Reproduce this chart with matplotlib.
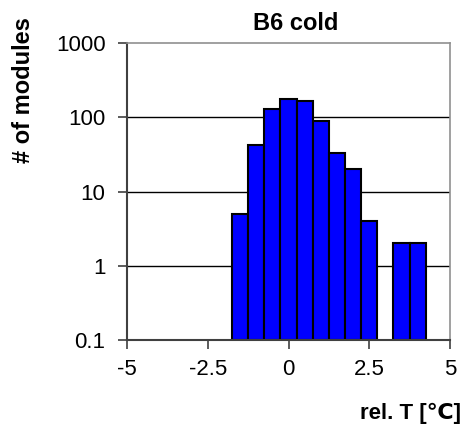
import numpy as np
import matplotlib.pyplot as plt

plt.rcParams['font.family'] = ['Liberation Sans', 'DejaVu Sans']

# bin centres (rel. T in degC) and counts per bin
bin_centres = [-1.5, -1.0, -0.5, 0.0, 0.5, 1.0, 1.5, 2.0, 2.5, 3.5, 4.0]
counts = [5, 42, 129, 174, 165, 90, 33, 20, 4, 2, 2]
x_ticks = [-5, -2.5, 0, 2.5, 5]
x_ticklabels = ["-5", "-2.5", "0", "2.5", "5"]
y_ticks = [0.1, 1, 10, 100, 1000]
y_ticklabels = ["0.1", "1", "10", "100", "1000"]

fig = plt.figure(figsize=(4.71, 4.25), dpi=100)
ax = fig.add_axes([127 / 471, 1 - 340 / 425, 323 / 471, 297 / 425])

ax.set_yscale("log")
ax.set_ylim(0.1, 1000)
ax.set_xlim(-5, 5)

# horizontal grid lines at each decade
for y in y_ticks[1:-1]:
    ax.axhline(y, color="black", linewidth=1.0, zorder=1)

ax.bar(bin_centres, np.array(counts) - 0.1, bottom=0.1, width=0.5,
       color="#0000FF", edgecolor="black", linewidth=1.5, zorder=2)

ax.set_xticks(x_ticks)
ax.set_xticklabels(x_ticklabels, fontsize=16)
ax.set_yticks(y_ticks)
ax.set_yticklabels(y_ticklabels, fontsize=16)
ax.minorticks_off()
ax.tick_params(axis="both", direction="out", length=6.5, width=1.2, color="#404040")
ax.tick_params(axis="x", pad=7)
ax.tick_params(axis="y", pad=9)

for side in ["top", "right"]:
    ax.spines[side].set_color("#909090")
    ax.spines[side].set_linewidth(1.2)
ax.spines["left"].set_color("#404040")
ax.spines["left"].set_linewidth(1.5)
ax.spines["bottom"].set_color("#404040")
ax.spines["bottom"].set_linewidth(1.5)

fig.text(296 / 471, 1 - 23 / 425, "B6 cold", fontsize=17, fontweight="bold",
         ha="center", va="center")
fig.text(24 / 471, 1 - 90 / 425, "# of modules", rotation=90, fontsize=17,
         fontweight="bold", ha="center", va="center")
fig.text(411 / 471, 1 - 413 / 425, "rel. T [℃]", fontsize=16,
         fontweight="bold", ha="center", va="center")

fig.savefig("out.png", dpi=100)
